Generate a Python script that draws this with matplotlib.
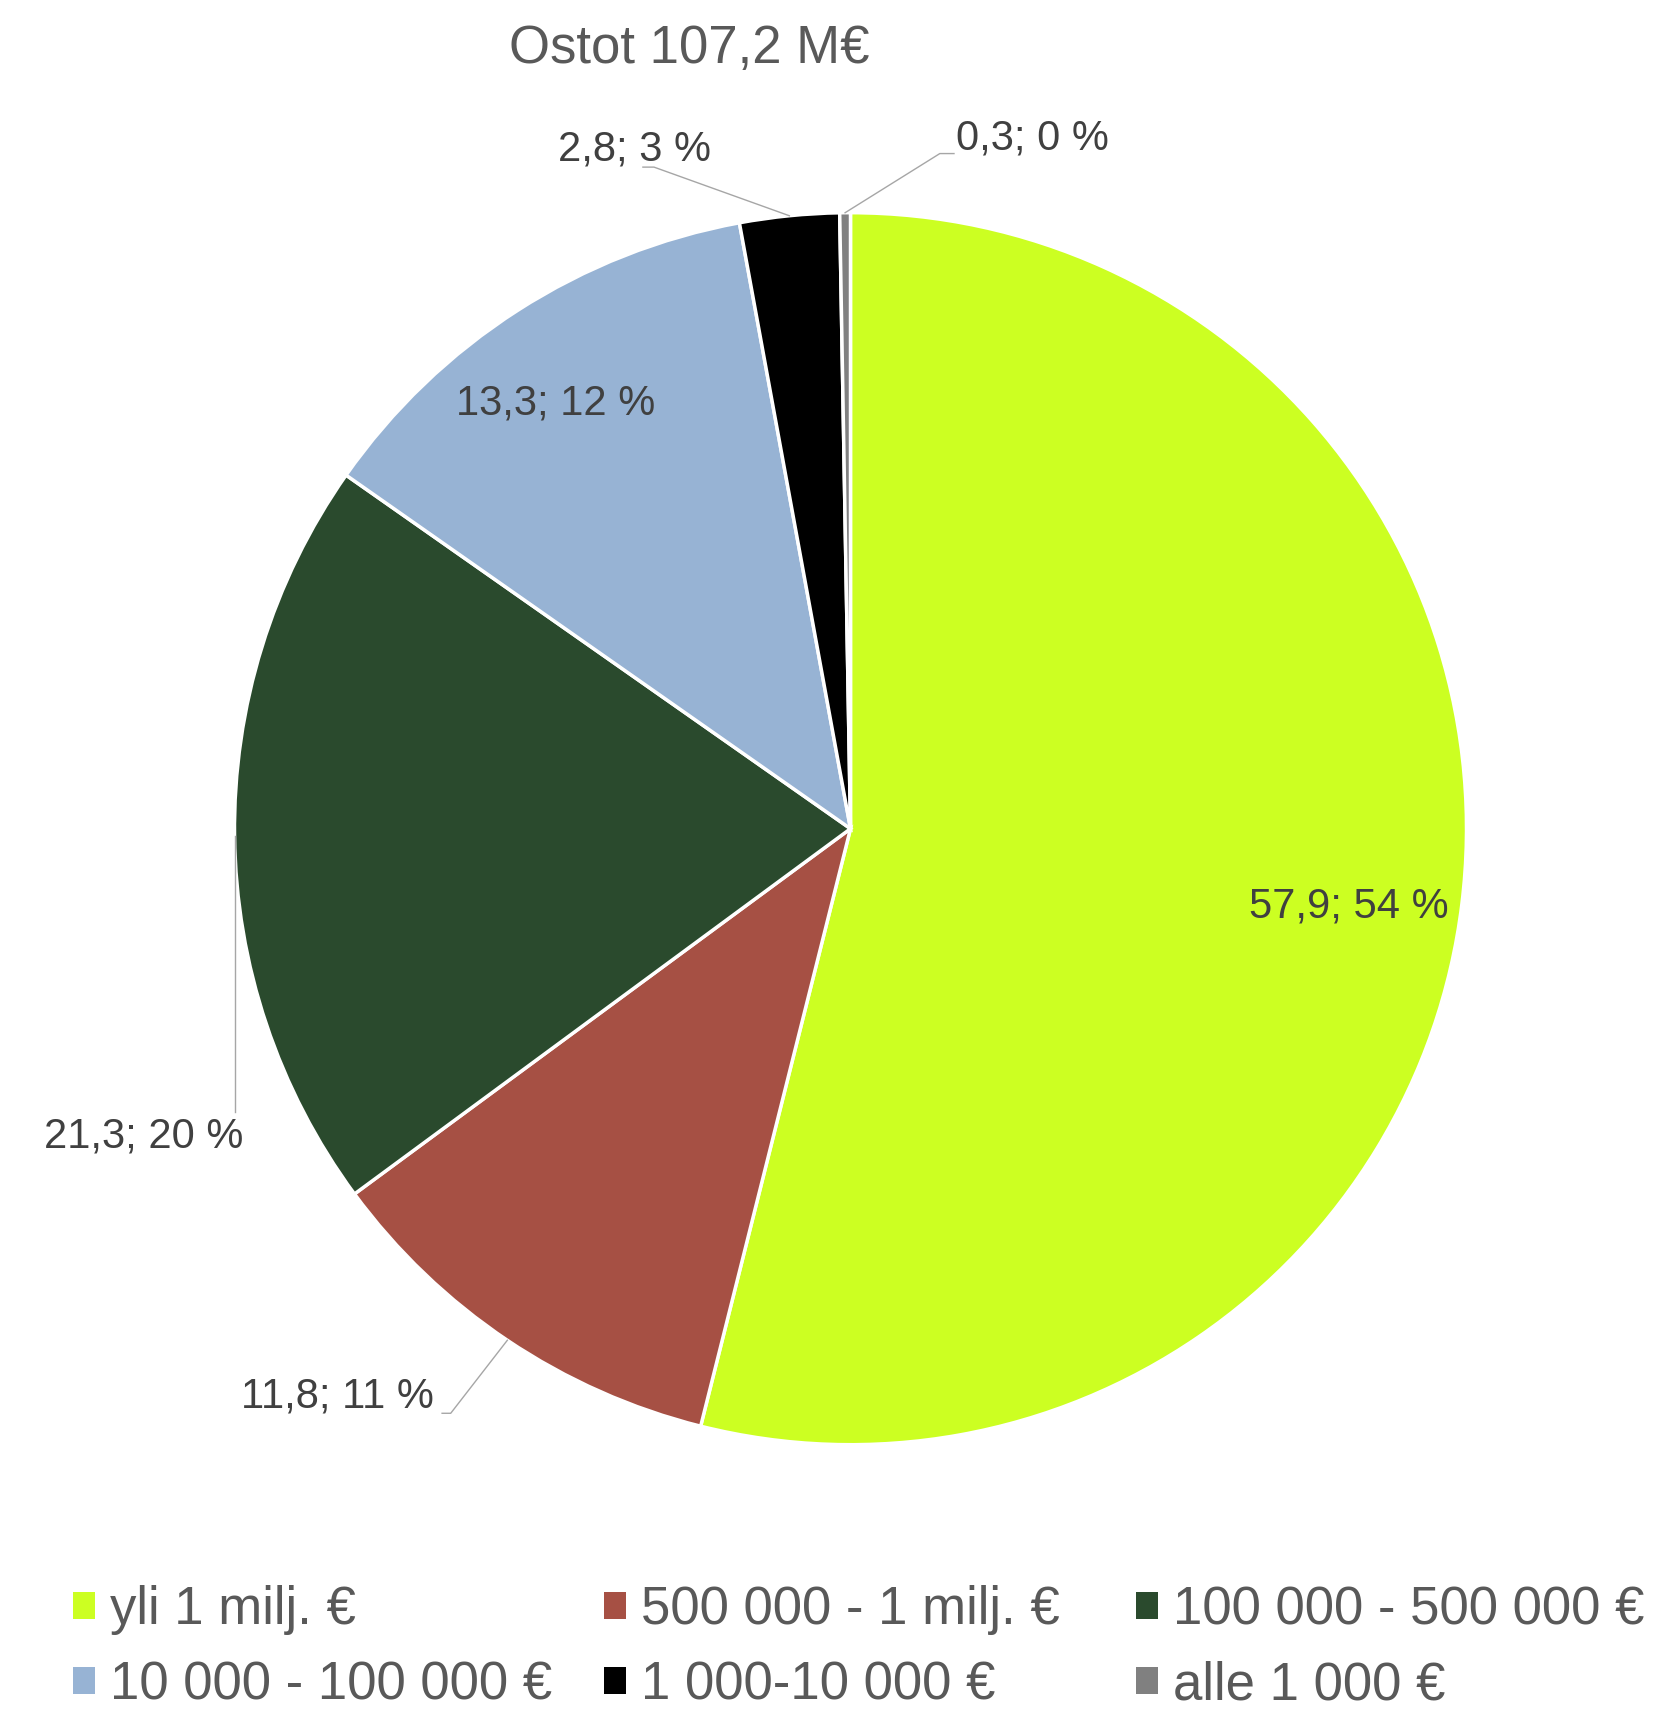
import numpy as np
import matplotlib
matplotlib.use('Agg')
import matplotlib.pyplot as plt

plt.rcParams['font.family'] = ['Liberation Sans', 'DejaVu Sans']

# data
categories = ['yli 1 milj. €', '500 000 - 1 milj. €', '100 000 - 500 000 €',
              '10 000 - 100 000 €', '1 000-10 000 €', 'alle 1 000 €']
values = [57.9, 11.8, 21.3, 13.3, 2.8, 0.3]
title = 'Ostot 107,2 M€'

colors = ['#CCFF22', '#A65044', '#2A4A2D', '#97B3D4', '#000000', '#808080']

# label layout in pie-radius units: (x, y, ha, leader knee points)
label_layout = [
    (0.809, -0.127, 'center', []),
    (-0.676, -0.921, 'right', [(-0.649, -0.949), (-0.663, -0.949)]),
    (-0.985, -0.499, 'right', [(None, -0.46)]),
    (-0.478, 0.691, 'center', []),
    (-0.350, 1.103, 'center', [(-0.319, 1.074), (-0.337, 1.074)]),
    (0.172, 1.121, 'left', [(0.145, 1.096), (0.168, 1.096)]),
]

W, H = 1676, 1710
cx, cy, r = 850.5, 828.7, 616.0

fig = plt.figure(figsize=(W / 100, H / 100), dpi=100)
ax = fig.add_axes([0, 0, 1, 1])

wedges, _ = ax.pie(values, colors=colors, startangle=90, counterclock=False,
                   wedgeprops=dict(edgecolor='white', linewidth=2.5))
ax.set_xlim(-cx / r, (W - cx) / r)
ax.set_ylim(-(H - cy) / r, cy / r)
ax.set_aspect('auto')
ax.axis('off')

total = sum(values)
for w, v, (lx, ly, ha, knees) in zip(wedges, values, label_layout):
    pct = round(v / total * 100)
    txt = f'{v:.1f}'.replace('.', ',') + f'; {pct} %'
    ax.text(lx, ly, txt, ha=ha, va='center', fontsize=30, color='#404040')
    if knees:
        ang = np.deg2rad((w.theta1 + w.theta2) / 2)
        ex, ey = np.cos(ang), np.sin(ang)
        xs, ys = [ex], [ey]
        for kx, ky in knees:
            xs.append(ex if kx is None else kx)
            ys.append(ky)
        ax.plot(xs, ys, color='#A6A6A6', linewidth=1.0)

fig.text(689 / W, 1 - 63 / H, title, ha='center', va='baseline',
         fontsize=38, color='#595959')

# legend: three fixed-width columns, two rows
col_x = [73, 604, 1136]
for col in range(3):
    leg = fig.legend(wedges[col::3], categories[col::3], loc='center left',
                     bbox_to_anchor=(col_x[col] / W, 1 - 1648 / H),
                     frameon=False, fontsize=38, handlelength=0.42,
                     handleheight=0.42, handletextpad=0.28, labelspacing=0.48,
                     borderpad=0, borderaxespad=0)
    for t in leg.get_texts():
        t.set_color('#595959')
    for h in leg.legend_handles:
        h.set_edgecolor('none')

fig.savefig('out.png', dpi=100)
